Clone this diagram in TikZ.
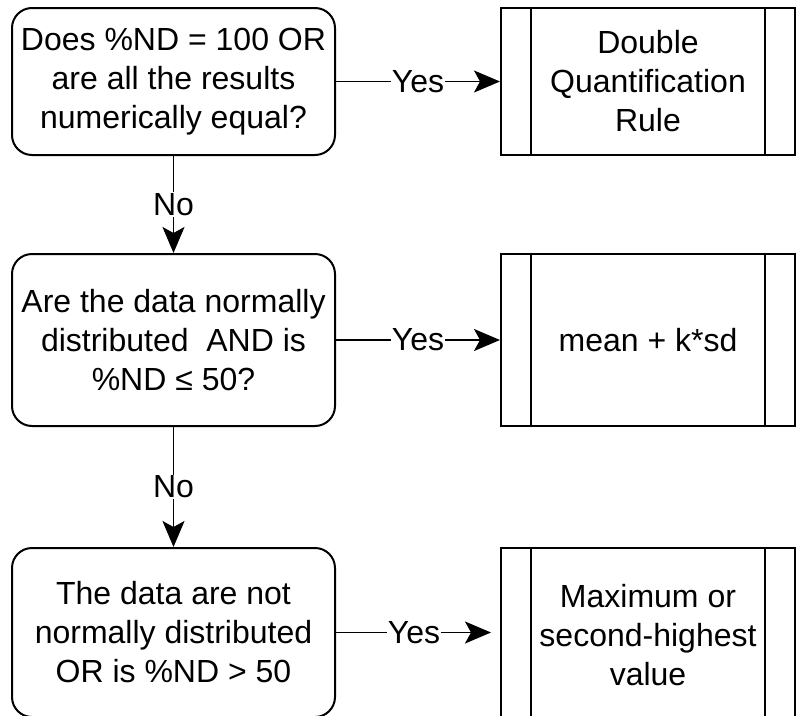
\documentclass[tikz,border=0pt]{standalone}
\usepackage{fontspec}
\setmainfont{Liberation Sans}
\usetikzlibrary{positioning,arrows.meta}

\begin{document}
\begin{tikzpicture}[x=1pt, y=-1pt,
    node distance = 97pt and 164pt,
    every node/.style = {font=\fontsize{32}{39}\selectfont},
       arr/.style = {line width=1.8pt, -{Stealth[length=26pt,width=22pt,inset=6pt]}},
       dec/.style = {draw, line width=2pt, rounded corners=20pt, align=center,
                     minimum width=323pt, minimum height=#1, inner sep=0pt},
      proc/.style = {draw, line width=2pt, align=center,
                     minimum width=294pt, minimum height=#1, inner sep=0pt,
                     path picture={\draw[line width=2pt]
                        ([xshift=30pt]path picture bounding box.north west) --
                        ([xshift=30pt]path picture bounding box.south west)
                        ([xshift=-30pt]path picture bounding box.north east) --
                        ([xshift=-30pt]path picture bounding box.south east);}},
       lbl/.style = {fill=white, inner sep=1pt},
                            ]
    \useasboundingbox (0,0) rectangle (798,715);
    % decisions
    \node[dec=147pt] (D1) at (173.5,81.5)
        {Does \%ND = 100 OR\\ are all the results\\ numerically equal?};
    \node[dec=172pt, below=of D1] (D2)
        {Are the data normally\\ distributed\ \ AND is\\ \%ND ≤ 50?};
    \node[dec=169pt, below=120pt of D2] (D3)
        {The data are not\\ normally distributed\\ OR is \%ND > 50};
    % outcomes
    \node[proc=147pt, right=of D1] (P1) {Double\\ Quantification\\ Rule};
    \node[proc=172pt, right=of D2] (P2) {mean + k*sd};
    \node[proc=175pt, anchor=north west] (P3) at (D3.north east -| P2.west)
        {Maximum or\\ second-highest\\ value};
    %% arrows
    \draw[arr] (D1) -- node[lbl] {Yes} (P1);
    \draw[arr] (D2) -- node[lbl] {Yes} (P2);
    \draw[arr, shorten >=9pt] (D3.east) -- node[lbl, xshift=-4pt] {Yes} (D3.east -| P3.west);
    \draw[arr] (D1) -- node[lbl] {No} (D2);
    \draw[arr] (D2) -- node[lbl] {No} (D3);
\end{tikzpicture}
\end{document}
